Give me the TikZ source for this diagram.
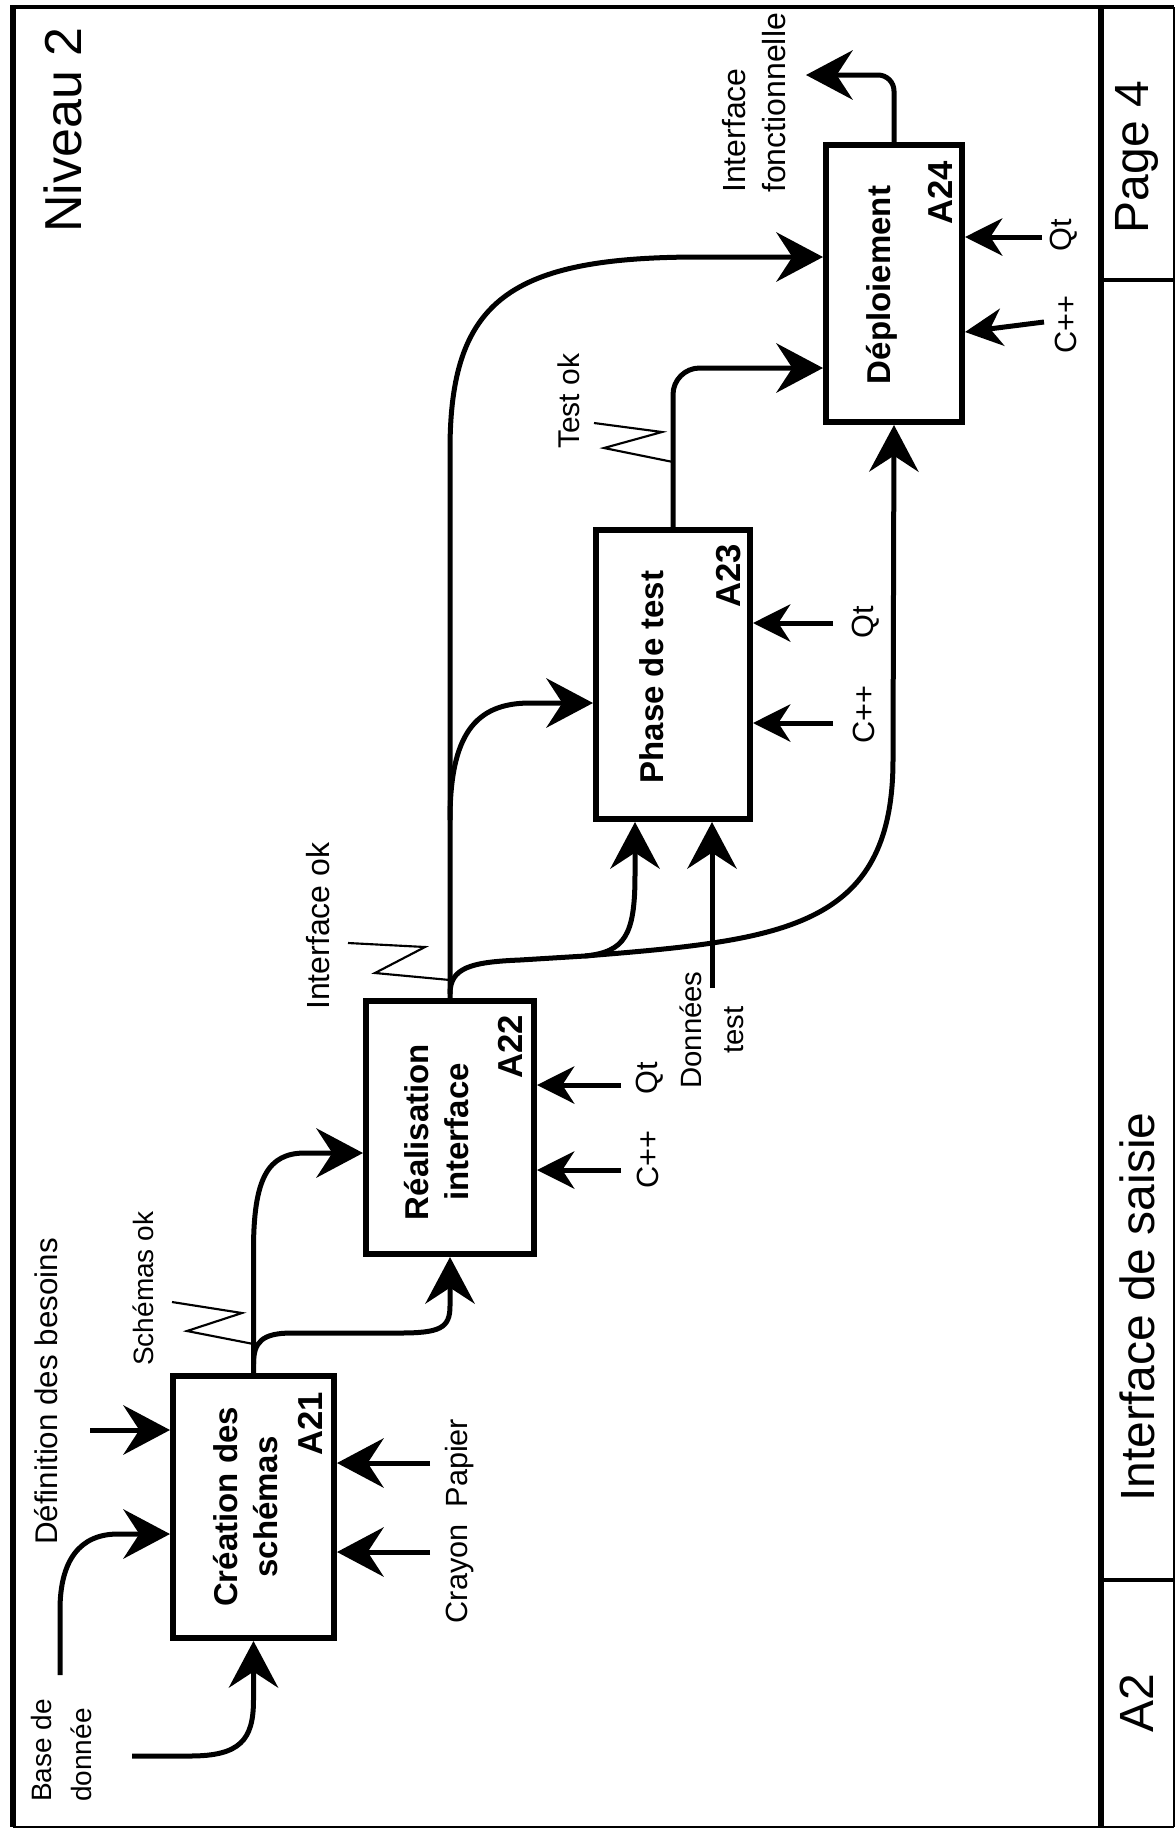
\documentclass[tikz,border=0pt]{standalone}
\usepackage{fontspec}
\setmainfont{Liberation Sans}
\usetikzlibrary{arrows.meta,calc}
\newcommand\setfs[2]{\fontsize{#1}{#2}\selectfont}
\begin{document}
\begin{tikzpicture}[x=0.75pt,y=-0.75pt,
  conn/.style={line width=3.75pt},
  bigarr/.style={conn,-{Stealth[length=35pt,width=37pt,inset=12pt]}},
  smallarr/.style={conn,-{Stealth[length=28pt,width=28pt,inset=9pt]}},
  box/.style={draw,line width=4.5pt,fill=white,inner sep=0pt},
  lbl/.style={rotate=90,inner sep=0pt},
  blbl/.style={lbl,align=center,font=\bfseries\setfs{24.75pt}{30pt}},
  idlbl/.style={lbl,font=\bfseries\setfs{26pt}{30pt}},
  zig/.style={line width=1.6pt,line join=miter},
  frame/.style={line width=#1},
]
\useasboundingbox (0,0) rectangle (1176,1829);
% frame
\draw[frame=3.5pt] (13,7) -- (1174,7);
\draw[frame=3.8pt] (13,5) -- (13,1827);
\draw[frame=2.2pt] (13,1827) -- (1174,1827);
\draw[frame=2.2pt] (1174,7) -- (1174,1827);
\draw[frame=5pt] (1101,7) -- (1101,1827);
\draw[frame=3pt] (1101,280) -- (1174,280);
\draw[frame=3pt] (1101,1580) -- (1174,1580);
\node[lbl,font=\setfs{39pt}{44pt}] (niv) at (63,130) {Niveau 2};
\node[lbl,font=\setfs{36pt}{42pt}] (page) at (1137,157) {Page 4};
\node[lbl,font=\setfs{36pt}{42pt}] (titre) at (1137,1307) {Interface de saisie};
\node[lbl,font=\setfs{36pt}{42pt}] (num) at (1137,1703) {A2};

% boxes
\node[box,minimum width=120.75pt,minimum height=196.5pt] (A21) at (253.5,1507) {};
\node[box,minimum width=126pt,minimum height=189.75pt] (A22) at (450,1127.5) {};
\node[box,minimum width=115.5pt,minimum height=216.75pt] (A23) at (673,674.5) {};
\node[box,minimum width=102pt,minimum height=207.75pt] (A24) at (894,283.5) {};
\node[blbl] (t21) at (246,1507) {Création des\\schémas};
\node[blbl] (t22) at (437,1132) {Réalisation\\interface};
\node[blbl] (t23) at (652,677) {Phase de test};
\node[blbl] (t24) at (882,285) {Déploiement};
\node[idlbl] (i21) at (310,1424) {A21};
\node[idlbl] (i22) at (510,1047) {A22};
\node[idlbl] (i23) at (729,576) {A23};
\node[idlbl] (i24) at (940,193) {A24};

% labels
\node[lbl,anchor=west,font=\setfs{23.5pt}{28pt}] (ldef) at (46,1545) {Définition des besoins};
\node[lbl,anchor=west,align=left,font=\setfs{21pt}{30pt}] (lbase) at (61,1802) {Base de\\donnée};
\node[lbl,anchor=west,font=\setfs{21pt}{26pt}] (lsch) at (143,1366) {Schémas ok};
\node[lbl,font=\setfs{23pt}{28pt}] (lcp) at (460,1521) {Crayon\ \ Papier};
\node[lbl,anchor=west,font=\setfs{24pt}{28pt}] (lint) at (318,1010) {Interface ok};
\node[lbl,font=\setfs{23pt}{28pt}] (lqt22) at (650,1078) {Qt};
\node[lbl,font=\setfs{23pt}{28pt}] (lcpp22) at (648,1160) {C++};
\node[lbl,align=center,font=\setfs{22pt}{32pt}] (ldt) at (712,1030) {Données\\test};
\node[lbl,font=\setfs{23pt}{28pt}] (lqt23) at (866,622) {Qt};
\node[lbl,font=\setfs{23pt}{28pt}] (lcpp23) at (864,715) {C++};
\node[lbl,anchor=west,font=\setfs{22.5pt}{27pt}] (ltest) at (569,449) {Test ok};
\node[lbl,font=\setfs{23pt}{28pt}] (lqt24) at (1064,235) {Qt};
\node[lbl,font=\setfs{23pt}{28pt}] (lcpp24) at (1066,325) {C++};
\node[lbl,anchor=west,align=left,font=\setfs{24pt}{30pt}] (lfin) at (754,193) {Interface\\fonctionnelle};

% A21 inputs, controls, mechanisms
\coordinate (bd1) at (132,1756);
\draw[bigarr] (bd1) -- (190,1756) .. controls (240,1756) and (253.5,1740) .. (253.5,1700) -- (A21.south);
\coordinate (bd2) at (60,1675);
\coordinate (bd2t) at (118,1534);
\draw[bigarr] (bd2) -- (60,1610) .. controls (60,1560) and (80,1534) .. (bd2t) -- (bd2t -| A21.west);
\coordinate (def) at (90,1430);
\draw[bigarr] (def) -- (def -| A21.west);
\coordinate (pap) at (430,1463);
\draw[bigarr] (pap) -- (pap -| A21.east);
\coordinate (cra) at (430,1552);
\draw[bigarr] (cra) -- (cra -| A21.east);

% A21 output
\coordinate (c22) at (305,1153);
\draw[bigarr] (A21.north) -- (253.5,1250) .. controls (253.5,1178) and (268,1153) .. (c22) -- (c22 -| A22.west);
\draw[bigarr] (253.5,1364) .. controls (253.5,1342) and (262,1333) .. (292,1333) -- (400,1333) .. controls (440,1333) and (450,1328) .. (450,1306) -- (A22.south);
\draw[zig] (172,1302) -- (242,1313) -- (187,1331) -- (253.5,1344);

% A22 mechanisms
\coordinate (qt22) at (621,1085);
\draw[smallarr] (qt22) -- (qt22 -| A22.east);
\coordinate (cpp22) at (621,1170);
\draw[smallarr] (cpp22) -- (cpp22 -| A22.east);

% A22 output
\coordinate (c24) at (700,257);
\draw[bigarr] (A22.north) -- (450,450) .. controls (450,300) and (510,257) .. (c24) -- (c24 -| A24.west);
\coordinate (c23) at (530,703);
\draw[bigarr] (450,820) .. controls (450,735) and (475,703) .. (c23) -- (c23 -| A23.west);
\draw[zig] (348,943) -- (425,947) -- (375,973) -- (450,980);
\coordinate (j1) at (585,956);
\coordinate (c23b) at (635,875);
\draw[conn] (450,994) .. controls (450,968) and (470,962) .. (520,960) -- (j1);
\draw[bigarr] (j1) .. controls (625,952) and (635,935) .. (c23b) -- (c23b |- A23.south);
\draw[bigarr] (j1) .. controls (780,940) and (893,930) .. (893,760) -- (A24.south);

% Donnees test
\coordinate (dt) at (712,988);
\draw[bigarr] (dt) -- (dt |- A23.south);

% A23 mechanisms
\coordinate (qt23) at (833,623);
\draw[smallarr] (qt23) -- (qt23 -| A23.east);
\coordinate (cpp23) at (833,723);
\draw[smallarr] (cpp23) -- (cpp23 -| A23.east);

% A23 output
\coordinate (c24b) at (673,368);
\draw[bigarr,rounded corners=20pt] (A23.north) -- (c24b) -- (c24b -| A24.west);
\draw[zig] (594,423) -- (662,432) -- (604,448) -- (673,462);

% A24 mechanisms
\coordinate (qt24) at (1042,237);
\draw[smallarr] (qt24) -- (qt24 -| A24.east);
\coordinate (cpp24) at (1044,322);
\coordinate (cpp24t) at (900,332);
\draw[smallarr] (cpp24) -- (cpp24t -| A24.east);

% A24 output
\coordinate (fin) at (806,75);
\draw[bigarr,rounded corners=12pt] (A24.north) -- (894,75) -- (fin);
\end{tikzpicture}
\end{document}
